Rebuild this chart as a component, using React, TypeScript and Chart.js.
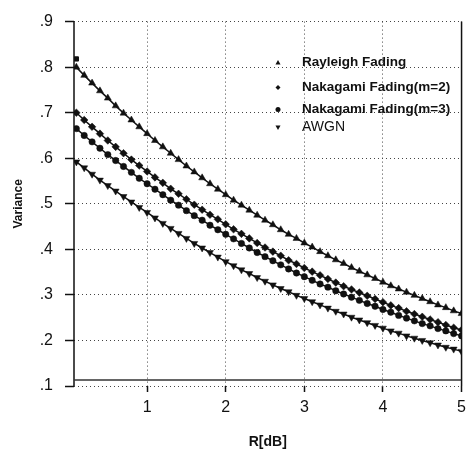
import React, { useEffect, useRef } from "react";
import { Chart, registerables } from "chart.js";

Chart.register(...registerables);

const xs = [
  0.1, 0.2, 0.3, 0.4, 0.5, 0.6, 0.7, 0.8, 0.9, 1.0,
  1.1, 1.2, 1.3, 1.4, 1.5, 1.6, 1.7, 1.8, 1.9, 2.0,
  2.1, 2.2, 2.3, 2.4, 2.5, 2.6, 2.7, 2.8, 2.9, 3.0,
  3.1, 3.2, 3.3, 3.4, 3.5, 3.6, 3.7, 3.8, 3.9, 4.0,
  4.1, 4.2, 4.3, 4.4, 4.5, 4.6, 4.7, 4.8, 4.9, 5.0,
];

const rayleigh = [
  0.800, 0.782, 0.765, 0.748, 0.732, 0.715, 0.699, 0.684, 0.669, 0.654,
  0.639, 0.625, 0.611, 0.597, 0.583, 0.570, 0.557, 0.544, 0.532, 0.520,
  0.508, 0.497, 0.486, 0.475, 0.464, 0.454, 0.443, 0.433, 0.424, 0.414,
  0.405, 0.395, 0.386, 0.377, 0.369, 0.360, 0.352, 0.344, 0.336, 0.328,
  0.320, 0.313, 0.306, 0.299, 0.292, 0.285, 0.278, 0.272, 0.265, 0.259,
];

const nakagami2 = [
  0.700, 0.684, 0.669, 0.654, 0.639, 0.625, 0.611, 0.597, 0.584, 0.571,
  0.558, 0.546, 0.533, 0.522, 0.510, 0.498, 0.487, 0.476, 0.466, 0.455,
  0.444, 0.434, 0.424, 0.414, 0.404, 0.395, 0.386, 0.376, 0.368, 0.359,
  0.351, 0.343, 0.335, 0.327, 0.319, 0.312, 0.305, 0.298, 0.291, 0.284,
  0.277, 0.271, 0.264, 0.258, 0.252, 0.246, 0.240, 0.234, 0.228, 0.223,
];

const nakagami3 = [
  0.665, 0.650, 0.636, 0.622, 0.608, 0.595, 0.582, 0.569, 0.556, 0.544,
  0.532, 0.520, 0.508, 0.497, 0.485, 0.474, 0.464, 0.453, 0.443, 0.433,
  0.423, 0.413, 0.403, 0.393, 0.384, 0.375, 0.366, 0.357, 0.348, 0.340,
  0.332, 0.324, 0.317, 0.309, 0.302, 0.295, 0.288, 0.281, 0.275, 0.268,
  0.262, 0.255, 0.249, 0.243, 0.237, 0.232, 0.226, 0.221, 0.215, 0.210,
];

const awgn = [
  0.592, 0.579, 0.565, 0.552, 0.540, 0.528, 0.516, 0.504, 0.492, 0.481,
  0.469, 0.457, 0.446, 0.435, 0.424, 0.413, 0.403, 0.393, 0.383, 0.373,
  0.364, 0.355, 0.347, 0.338, 0.330, 0.322, 0.314, 0.307, 0.299, 0.292,
  0.285, 0.278, 0.271, 0.264, 0.258, 0.251, 0.245, 0.239, 0.233, 0.227,
  0.221, 0.216, 0.210, 0.205, 0.200, 0.195, 0.190, 0.185, 0.181, 0.176,
];

const baselineXs = [0.07, 5.0];
const baselineYs = [0.113, 0.113];
const strayMarker = { x: 0.1, y: 0.818 };

const xTicks = [1, 2, 3, 4, 5];
const yTicks = [0.1, 0.2, 0.3, 0.4, 0.5, 0.6, 0.7, 0.8, 0.9];

const legendLabels = [
  "Rayleigh Fading",
  "Nakagami Fading(m=2)",
  "Nakagami Fading(m=3)",
  "AWGN",
];

const FONT = "'Liberation Sans', Arial, sans-serif";

function drawMarker(ctx: CanvasRenderingContext2D, kind: string, x: number, y: number, r: number) {
  ctx.beginPath();
  if (kind === "up") {
    ctx.moveTo(x, y - r);
    ctx.lineTo(x + r, y + r * 0.8);
    ctx.lineTo(x - r, y + r * 0.8);
  } else if (kind === "down") {
    ctx.moveTo(x, y + r);
    ctx.lineTo(x + r, y - r * 0.8);
    ctx.lineTo(x - r, y - r * 0.8);
  } else if (kind === "diamond") {
    ctx.moveTo(x, y - r);
    ctx.lineTo(x + r, y);
    ctx.lineTo(x, y + r);
    ctx.lineTo(x - r, y);
  } else {
    ctx.arc(x, y, r, 0, Math.PI * 2);
  }
  ctx.closePath();
  ctx.fill();
}

const framePlugin = {
  id: "frameAndLegend",
  beforeDatasetsDraw(chart: any) {
    const { ctx, chartArea } = chart;
    ctx.save();
    ctx.strokeStyle = "#111";
    ctx.lineWidth = 1.5;
    ctx.beginPath();
    ctx.moveTo(chartArea.left, chartArea.top);
    ctx.lineTo(chartArea.left, chartArea.bottom);
    ctx.moveTo(chartArea.right, chartArea.top);
    ctx.lineTo(chartArea.right, chartArea.bottom);
    ctx.stroke();
    ctx.restore();
  },
  afterDraw(chart: any) {
    const { ctx, chartArea } = chart;
    const kinds = ["up", "diamond", "circle", "down"];
    const rows = [41, 66, 88, 106];
    ctx.save();
    ctx.fillStyle = "#111";
    ctx.textBaseline = "middle";
    ctx.textAlign = "left";
    legendLabels.forEach((label, i) => {
      const y = chartArea.top + rows[i];
      drawMarker(ctx, kinds[i], chartArea.left + 204, y, 2.5);
      ctx.font = i === 3 ? `14px ${FONT}` : `bold 13.5px ${FONT}`;
      ctx.fillText(label, chartArea.left + 228, y);
    });
    ctx.restore();
  },
};

export default function App() {
  const canvasRef = useRef<HTMLCanvasElement | null>(null);

  useEffect(() => {
    document.body.style.margin = "0";
    const canvas = canvasRef.current;
    if (!canvas) return;
    const pts = (ys: number[]) => xs.map((x, i) => ({ x, y: ys[i] }));
    const common = {
      borderColor: "#111",
      backgroundColor: "#111",
      pointBorderColor: "#111",
      pointBackgroundColor: "#111",
      borderWidth: 1.5,
      pointBorderWidth: 0.5,
      pointRadius: 3,
      showLine: true,
      tension: 0,
    };
    const chart = new Chart(canvas, {
      type: "scatter",
      data: {
        datasets: [
          { ...common, label: legendLabels[0], data: pts(rayleigh), pointStyle: "triangle", pointRadius: 4 },
          { ...common, label: legendLabels[1], data: pts(nakagami2), pointStyle: "rectRot", pointRadius: 3.8 },
          { ...common, label: legendLabels[2], data: pts(nakagami3), pointStyle: "circle", pointRadius: 3.2 },
          { ...common, label: legendLabels[3], data: pts(awgn), pointStyle: "triangle", rotation: 180, pointRadius: 4 },
          {
            label: "baseline",
            data: baselineXs.map((x, i) => ({ x, y: baselineYs[i] })),
            borderColor: "#333",
            borderWidth: 1.5,
            pointRadius: 0,
            showLine: true,
          },
          {
            label: "marker",
            data: [strayMarker],
            pointStyle: "rect",
            pointRadius: 3,
            pointBackgroundColor: "#111",
            pointBorderColor: "#111",
            showLine: false,
          },
        ],
      },
      options: {
        responsive: false,
        animation: false,
        layout: { padding: { top: 14, right: 9, left: 0, bottom: 0 } },
        plugins: { legend: { display: false }, tooltip: { enabled: false } },
        scales: {
          x: {
            type: "linear",
            min: 0.07,
            max: 5,
            afterBuildTicks: (scale: any) => {
              scale.ticks = xTicks.map((v) => ({ value: v }));
            },
            afterFit: (scale: any) => {
              scale.height = 68;
            },
            ticks: {
              color: "#111",
              font: { family: FONT, size: 16 },
              padding: 6,
              maxRotation: 0,
              callback: (v: any) => String(v),
            },
            grid: {
              color: "#444",
              lineWidth: 1,
              tickColor: "#111",
              tickLength: 6,
              tickWidth: 1.5,
            },
            border: { display: false, dash: [1, 3] },
            title: {
              display: true,
              text: "R[dB]",
              color: "#111",
              font: { family: FONT, size: 14, weight: "bold" },
              padding: { top: 0, bottom: 3 },
            },
          },
          y: {
            type: "linear",
            min: 0.1,
            max: 0.9,
            afterBuildTicks: (scale: any) => {
              scale.ticks = yTicks.map((v) => ({ value: v }));
            },
            afterFit: (scale: any) => {
              scale.width = 74;
            },
            ticks: {
              color: "#111",
              font: { family: FONT, size: 16 },
              padding: 12,
              callback: (v: any) => Number(v).toFixed(1).replace(/^0/, ""),
            },
            grid: {
              color: "#444",
              lineWidth: 1,
              tickColor: "#111",
              tickLength: 9,
              tickWidth: 1.5,
            },
            border: { display: false, dash: [1, 3] },
            title: {
              display: true,
              text: "Variance",
              color: "#111",
              font: { family: FONT, size: 12, weight: "bold" },
              padding: { top: 11, bottom: 0 },
            },
          },
        },
      },
      plugins: [framePlugin],
    } as any);
    return () => chart.destroy();
  }, []);

  return <canvas ref={canvasRef} width={472} height={454} style={{ display: "block" }} />;
}
